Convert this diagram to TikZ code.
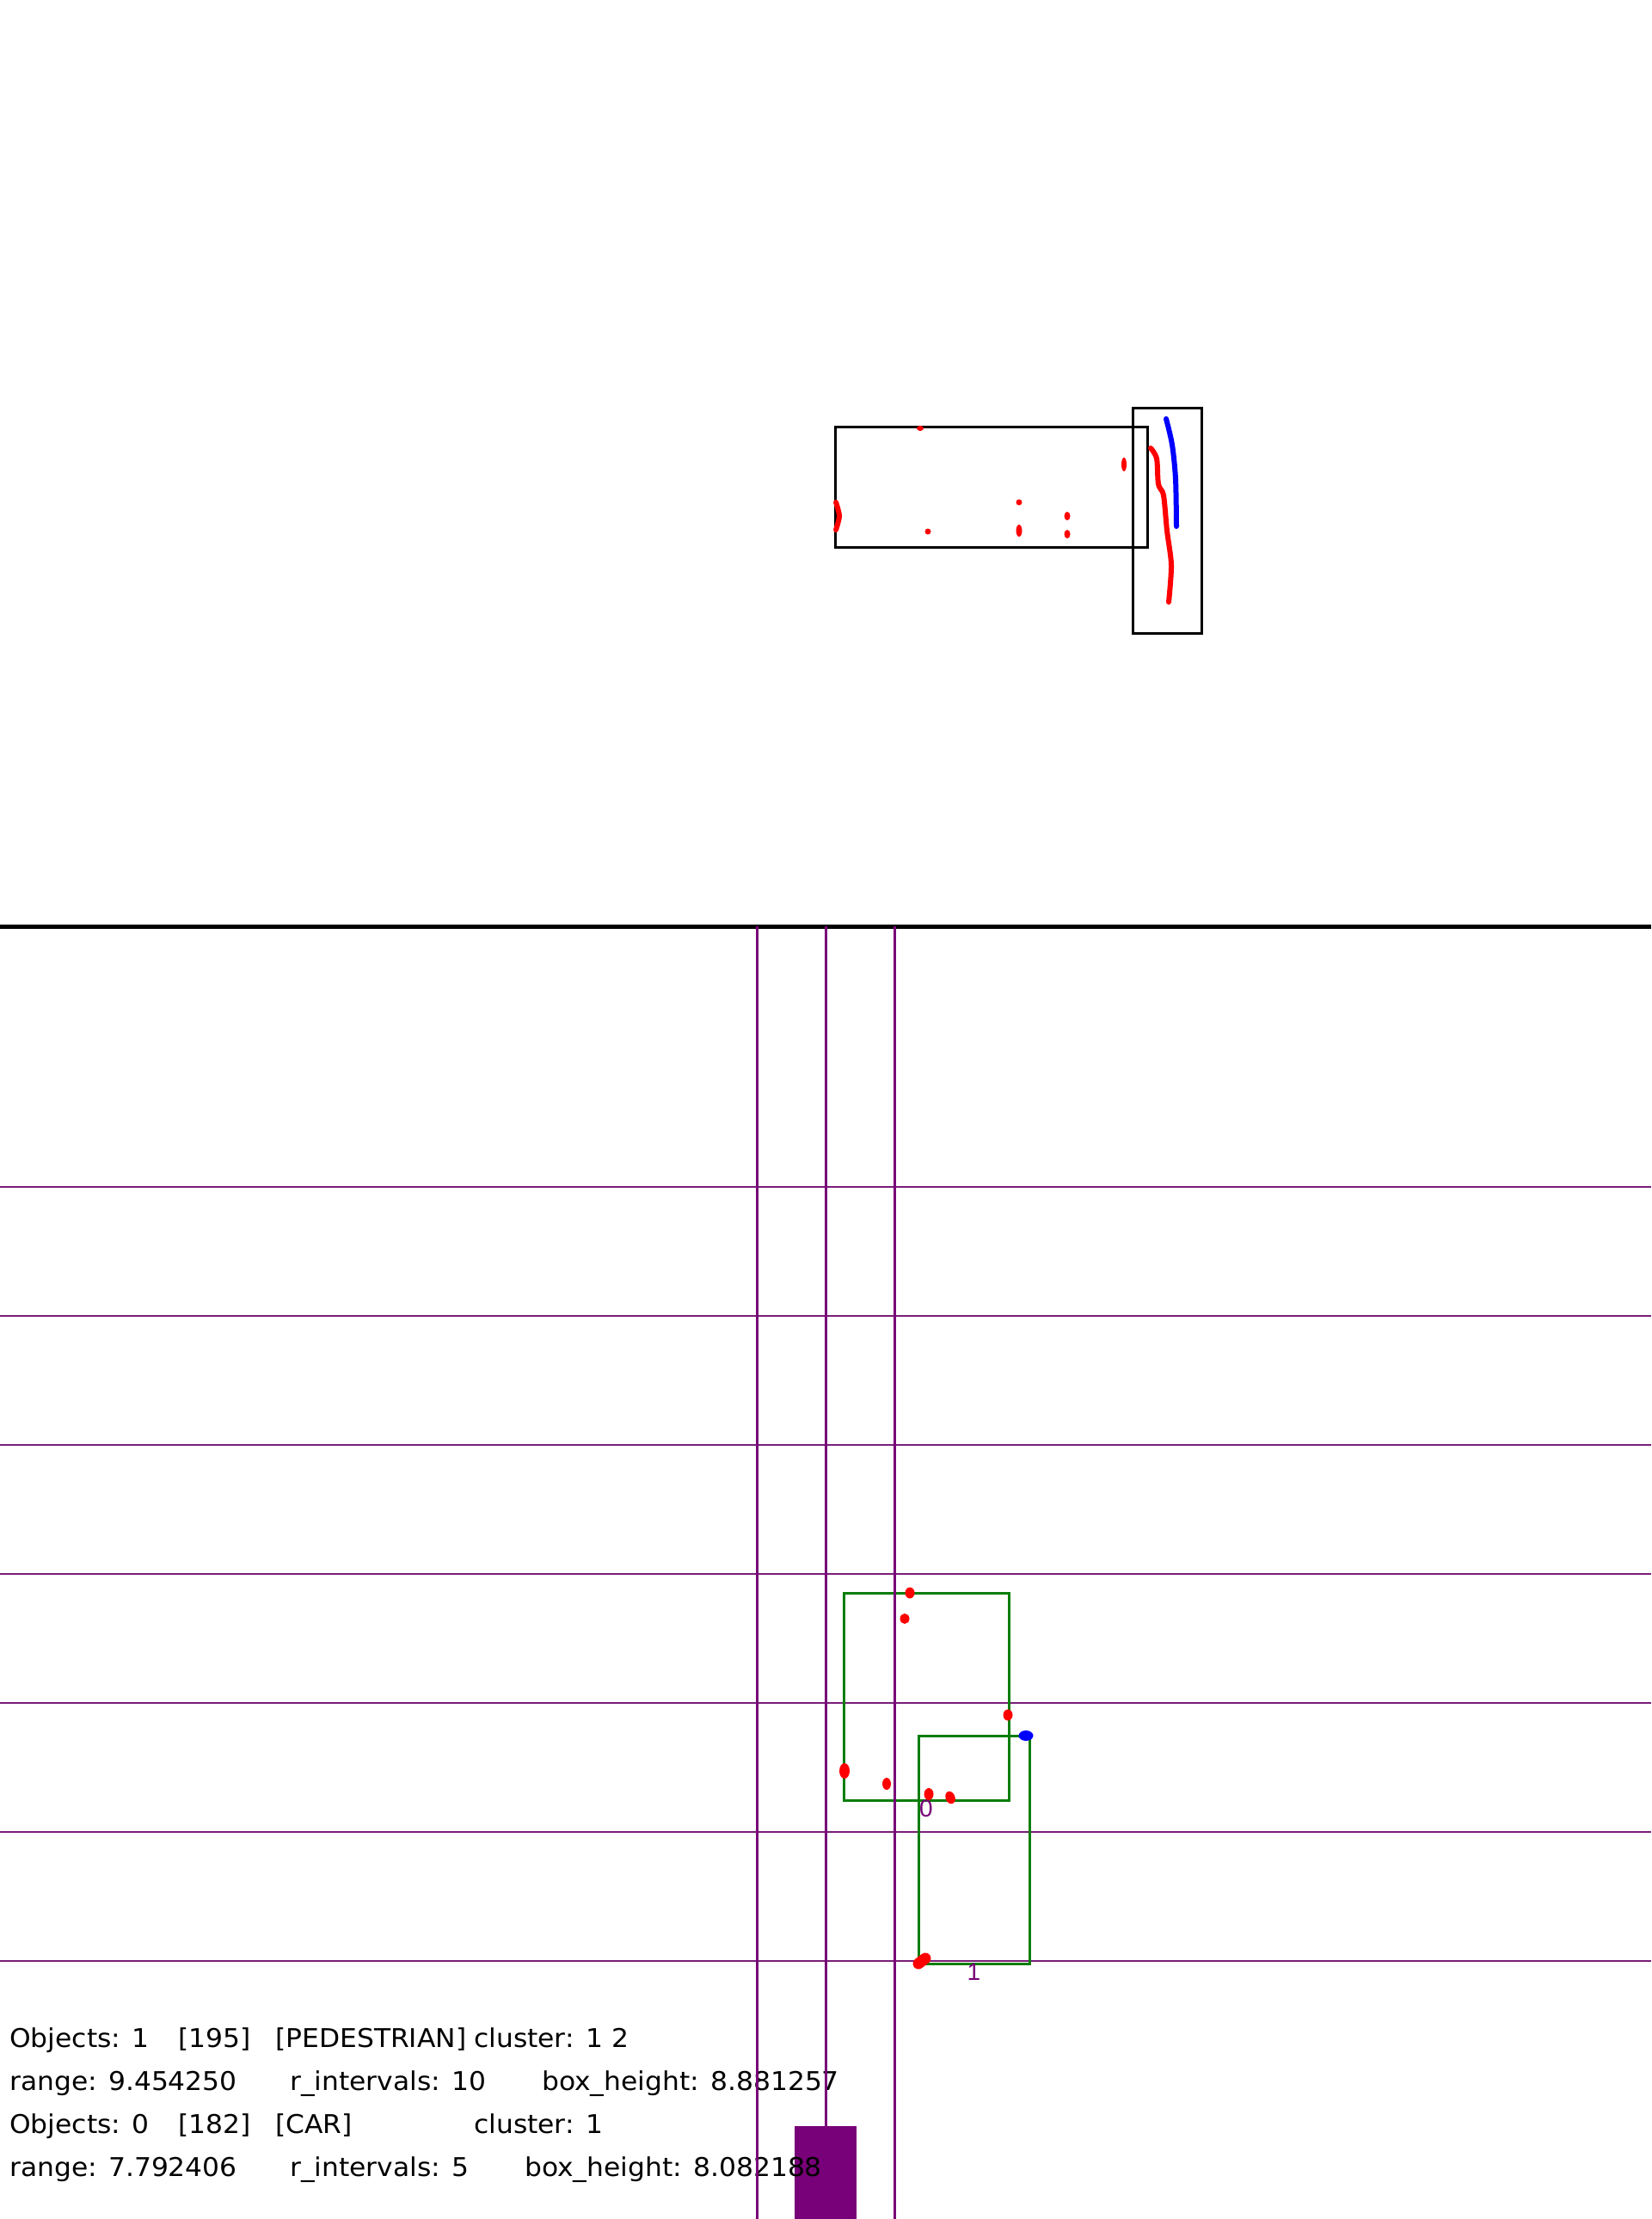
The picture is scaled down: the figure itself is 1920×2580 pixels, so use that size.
\documentclass[tikz,border=0pt]{standalone}
\usepackage{fontspec}
\usepackage{graphicx}
\setmainfont{DejaVu Sans}
\newfontfamily\lblfont{Liberation Sans}
\newcommand{\tx}[1]{\scalebox{1.045}[1]{#1}}
\definecolor{pplv}{RGB}{120,0,120}
\definecolor{pplh}{RGB}{120,30,120}
\definecolor{grn}{RGB}{10,125,10}
\definecolor{rd}{RGB}{255,0,0}
\definecolor{bl}{RGB}{0,0,255}
\tikzset{
  blackbox/.style={draw=black,line width=3pt},
  greenbox/.style={draw=grn,line width=3pt},
  vline/.style={draw=pplv,line width=3pt},
  hline/.style={draw=pplh,line width=1.6pt},
  rtrace/.style={draw=rd,line width=6pt,line cap=round,line join=round},
  btrace/.style={draw=bl,line width=6pt,line cap=round,line join=round},
  rdot/.style={fill=rd},
  bdot/.style={fill=bl},
  txt/.style={anchor=base west,inner sep=0pt,text=black,font=\fontsize{30}{30}\selectfont},
  lbl/.style={anchor=north,inner sep=0pt,text=pplv,font=\lblfont\fontsize{28}{28}\selectfont},
}
\begin{document}
\begin{tikzpicture}[x=1pt,y=-1pt]
\useasboundingbox (0,0) rectangle (1920,2580);
\fill[white] (0,0) rectangle (1920,2580);

% ---------- top view ----------
\draw[blackbox] (971,496) rectangle (1334,636);
\draw[blackbox] (1317,474) rectangle (1397,736);
\fill[rdot] (1070,498) ellipse (4 and 3);
\draw[rtrace] plot[smooth] coordinates {(972,584) (976,600) (972,616)};
\fill[rdot] (1079,618) circle (3.5);
\fill[rdot] (1185,584) circle (3.5);
\fill[rdot] (1185,617) ellipse (3.5 and 7);
\fill[rdot] (1241,600) ellipse (3.5 and 5);
\fill[rdot] (1241,621) ellipse (3.5 and 5);
\fill[rdot] (1307,540) ellipse (3 and 8);
\draw[rtrace] plot[smooth] coordinates {(1338,521) (1345,533) (1347,563) (1353,576) (1357,617) (1362,657) (1359,700)};
\draw[btrace] plot[smooth] coordinates {(1356,487) (1363,517) (1367,557) (1368,612)};

% ---------- separator ----------
\draw[black,line width=5pt] (0,1077) -- (1920,1077);

% ---------- range lines ----------
\foreach \yy in {1380,1530,1680,1830,1980,2130,2280}
  \draw[hline] (0,\yy) -- (1920,\yy);

% ---------- object boxes ----------
\draw[greenbox] (981,1852) rectangle (1173,2093);
\draw[greenbox] (1068,2018) rectangle (1197,2283);

% ---------- filled bar ----------
\fill[pplv] (924,2472) rectangle (996,2580);

% ---------- text ----------
\node[txt] (r1a) at (11,2380) {\tx{Objects: 1}};
\node[txt] (r1b) at (207,2380) {\tx{[195]}};
\node[txt] (r1c) at (320,2380) {\tx{[PEDESTRIAN]}};
\node[txt] (r1d) at (551,2380) {\tx{cluster: 1 2}};
\node[txt] (r2a) at (11,2430) {\tx{range: 9.454250}};
\node[txt] (r2b) at (337,2430) {\tx{r\_intervals: 10}};
\node[txt] (r2c) at (630,2430) {\tx{box\_height: 8.881257}};
\node[txt] (r3a) at (11,2480) {\tx{Objects: 0}};
\node[txt] (r3b) at (207,2480) {\tx{[182]}};
\node[txt] (r3c) at (320,2480) {\tx{[CAR]}};
\node[txt] (r3d) at (551,2480) {\tx{cluster: 1}};
\node[txt] (r4a) at (11,2530) {\tx{range: 7.792406}};
\node[txt] (r4b) at (337,2530) {\tx{r\_intervals: 5}};
\node[txt] (r4c) at (610,2530) {\tx{box\_height: 8.082188}};

% ---------- vertical lines ----------
\draw[vline] (880,1077) -- (880,2580);
\draw[vline] (960,1077) -- (960,2472);
\draw[vline] (1040,1077) -- (1040,2580);

% ---------- labels ----------
\node[lbl] (l0) at (1077,2093) {0};
\node[lbl] (l1) at (1132.5,2283) {1};

% ---------- points ----------
\fill[rdot] (1058,1852) ellipse (5.5 and 6.5);
\fill[rdot] (1052,1882) ellipse (5.5 and 6);
\fill[rdot] (1172,1994) ellipse (5.5 and 6.5);
\fill[rdot] (982,2059) ellipse (6 and 9);
\fill[rdot] (1031,2074) ellipse (5 and 7);
\fill[rdot] (1080,2086) ellipse (5.5 and 7);
\fill[rdot,rotate around={20:(1105,2090)}] (1105,2090) ellipse (5.5 and 7.5);
\draw[rd,line width=13pt,line cap=round] (1068,2283) -- (1076,2277);
\fill[bdot] (1193,2018) ellipse (8.5 and 6);
\end{tikzpicture}
\end{document}
